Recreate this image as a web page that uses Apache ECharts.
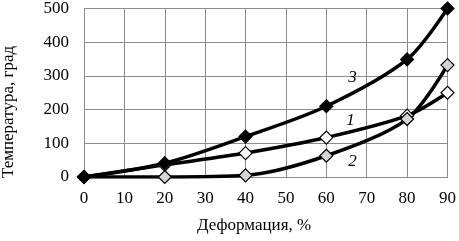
<!DOCTYPE html>
<html>
<head>
<meta charset="utf-8">
<script src="https://cdn.jsdelivr.net/npm/echarts@6/dist/echarts.min.js"></script>
<style>
html, body { margin: 0; padding: 0; background: #fff; }
#chart { width: 459px; height: 241px; }
</style>
</head>
<body>
<div id="chart"></div>
<script>
// деформация, %
var deform = [0, 20, 40, 60, 80, 90];
// кривые температуры
var curve1 = [0, 36, 71, 117, 182, 250];
var curve2 = [0, 0, 5, 63, 172, 332];
var curve3 = [0, 41, 120, 210, 349, 500];
// подписи кривых [x, y]
var tag1 = [66, 169];
var tag2 = [66.5, 47];
var tag3 = [66.5, 296];

var font = 'Liberation Serif';

function pairs(ys) {
  return deform.map(function (x, i) { return [x, ys[i]]; });
}

function makeSeries(name, ys, fill, tag) {
  return {
    name: name,
    type: 'line',
    data: pairs(ys),
    smooth: 0.3,
    symbol: 'diamond',
    symbolSize: 13,
    lineStyle: { color: '#000', width: 3.5 },
    itemStyle: { color: fill, borderColor: '#000', borderWidth: 1.2 },
    markPoint: {
      symbol: 'circle',
      symbolSize: 0,
      data: [{ coord: tag }],
      label: {
        show: true,
        formatter: name,
        color: '#000',
        fontFamily: font,
        fontStyle: 'italic',
        fontSize: 17
      }
    }
  };
}

var chart = echarts.init(document.getElementById('chart'));
chart.setOption({
  animation: false,
  grid: { left: 84, right: 8, top: 8, bottom: 64 },
  xAxis: {
    type: 'value',
    min: 0,
    max: 90,
    interval: 10,
    axisLine: { show: true, lineStyle: { color: '#8c8c8c' } },
    axisTick: { show: false },
    axisLabel: { color: '#000', fontFamily: font, fontSize: 17, margin: 13 },
    splitLine: { show: true, lineStyle: { color: '#8c8c8c', width: 1 } }
  },
  yAxis: {
    type: 'value',
    min: 0,
    max: 500,
    interval: 100,
    axisLine: { show: true, lineStyle: { color: '#8c8c8c' } },
    axisTick: { show: false },
    axisLabel: { color: '#000', fontFamily: font, fontSize: 17, margin: 15 },
    splitLine: { show: true, lineStyle: { color: '#8c8c8c', width: 1 } }
  },
  graphic: [
    {
      type: 'text',
      left: 197,
      top: 217,
      style: { text: 'Деформация, %', fill: '#000', font: '17px ' + font }
    },
    {
      type: 'text',
      x: 0,
      y: 112,
      rotation: Math.PI / 2,
      style: {
        text: 'Температура, град',
        fill: '#000',
        font: '17px ' + font,
        align: 'center',
        verticalAlign: 'top'
      }
    }
  ],
  series: [
    makeSeries('1', curve1, '#ffffff', tag1),
    makeSeries('2', curve2, '#d4d4d4', tag2),
    makeSeries('3', curve3, '#000000', tag3)
  ]
});
</script>
</body>
</html>
